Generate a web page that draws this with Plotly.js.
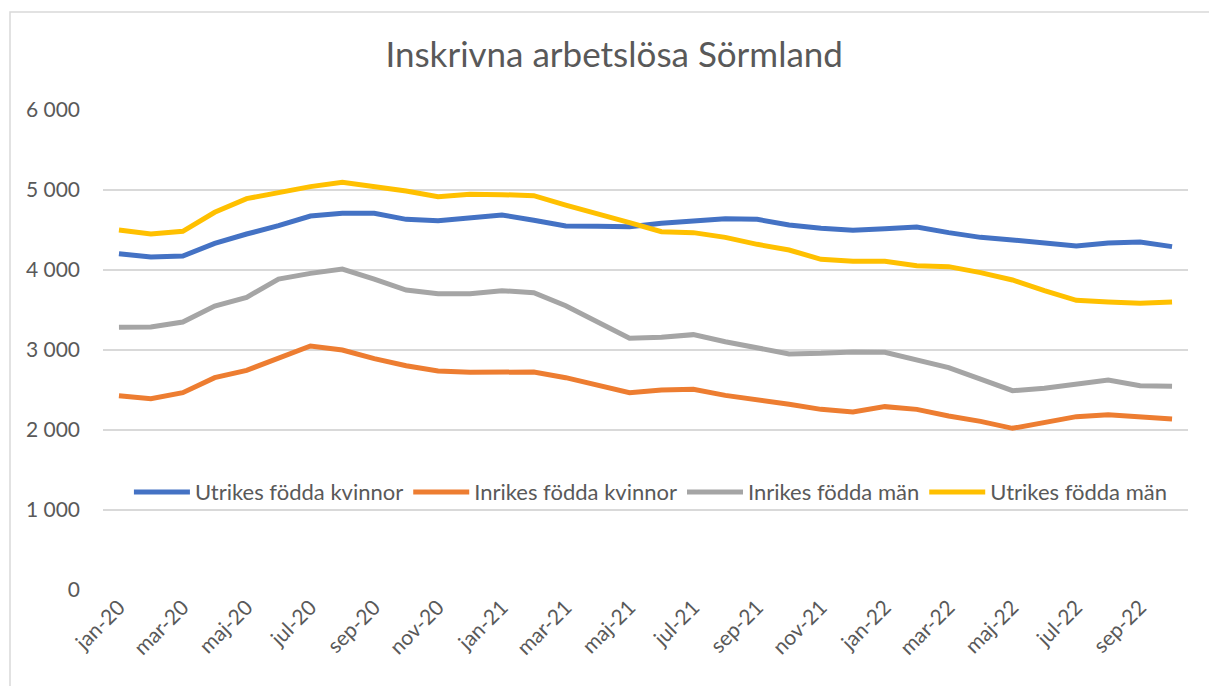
<!DOCTYPE html>
<html>
<head>
<meta charset="utf-8">
<script src="https://cdn.plot.ly/plotly-3.0.1.min.js"></script>
<style>html,body{margin:0;padding:0;background:#fff;}#chart{width:1209px;height:686px;}</style>
</head>
<body>
<div id="chart"></div>
<script>
const months = ['jan-20','feb-20','mar-20','apr-20','maj-20','jun-20','jul-20','aug-20','sep-20','okt-20','nov-20','dec-20',
  'jan-21','feb-21','mar-21','apr-21','maj-21','jun-21','jul-21','aug-21','sep-21','okt-21','nov-21','dec-21',
  'jan-22','feb-22','mar-22','apr-22','maj-22','jun-22','jul-22','aug-22','sep-22','okt-22'];
const xTickLabels = ['jan-20','mar-20','maj-20','jul-20','sep-20','nov-20','jan-21','mar-21','maj-21','jul-21','sep-21','nov-21','jan-22','mar-22','maj-22','jul-22','sep-22'];

const utrikesKvinnor = [4204,4162,4175,4333,4450,4554,4675,4708,4708,4633,4617,4650,4688,4621,4550,4546,4542,4583,4608,4642,4633,4562,4521,4496,4517,4537,4467,4408,4375,4342,4300,4337,4350,4292];
const inrikesKvinnor = [2429,2392,2467,2654,2746,2900,3050,3000,2892,2804,2738,2721,2729,2725,2654,2558,2467,2500,2508,2433,2383,2321,2258,2225,2292,2258,2175,2108,2021,2096,2167,2192,2167,2138];
const inrikesMan = [3283,3287,3350,3550,3658,3887,3958,4012,3887,3750,3704,3704,3742,3717,3554,3354,3146,3158,3192,3104,3033,2950,2958,2975,2971,2883,2779,2637,2492,2521,2571,2625,2554,2546];
const utrikesMan = [4500,4450,4483,4721,4892,4971,5042,5096,5042,4987,4917,4946,4942,4929,4812,4708,4592,4479,4467,4408,4321,4250,4133,4108,4108,4054,4042,3967,3875,3742,3621,3600,3583,3600];

const yTickVals = [0,1000,2000,3000,4000,5000,6000];
const yTickText = ['0','1 000','2 000','3 000','4 000','5 000','6 000'];

const seriesNames = ['Utrikes födda kvinnor','Inrikes födda kvinnor','Inrikes födda män','Utrikes födda män'];
const seriesColors = ['#4472C4','#ED7D31','#A5A5A5','#FFC000'];
const seriesValues = [utrikesKvinnor, inrikesKvinnor, inrikesMan, utrikesMan];

const traces = seriesValues.map((vals, i) => ({
  x: months, y: vals, name: seriesNames[i], type: 'scatter', mode: 'lines',
  line: {color: seriesColors[i], width: 5}
}));

const FONT = 'Lato, "Open Sans", sans-serif';
const layout = {
  width: 1209, height: 686,
  margin: {l: 103, r: 21, t: 110, b: 96},
  paper_bgcolor: '#fff', plot_bgcolor: '#fff',
  font: {family: FONT, color: '#595959', size: 20},
  title: {text: 'Inskrivna arbetslösa Sörmland', font: {family: FONT, size: 35, color: '#595959'}, x: 0.508, xanchor: 'center', y: 0.92, yanchor: 'middle'},
  xaxis: {type: 'category', range: [-0.5, 33.5], tickmode: 'array', tickvals: xTickLabels, ticktext: xTickLabels,
    tickangle: -45, showgrid: false, zeroline: false, showline: false, ticks: '', tickfont: {size: 21, color: '#595959'}},
  yaxis: {range: [0, 6000], tickmode: 'array', tickvals: yTickVals, ticktext: yTickText, showgrid: true,
    gridcolor: '#D9D9D9', gridwidth: 1.5, zeroline: false, showline: false, ticks: '', ticklabelstandoff: 22,
    tickfont: {size: 21, color: '#595959'}},
  showlegend: true,
  legend: {orientation: 'h', x: 0.505, xanchor: 'center', y: 0.204, yanchor: 'middle', bgcolor: 'rgba(0,0,0,0)',
    font: {size: 22, color: '#595959'}, itemwidth: 56, tracegroupgap: 0, traceorder: 'normal'},
  shapes: [{type: 'rect', xref: 'paper', yref: 'paper', x0: (10-103)/1085, x1: 1.03, y0: -0.3, y1: (590-12)/480,
    line: {color: '#D9D9D9', width: 1.5}, fillcolor: 'rgba(0,0,0,0)', layer: 'below'}]
};

Plotly.newPlot('chart', traces, layout, {displayModeBar: false, staticPlot: true});
</script>
</body>
</html>
